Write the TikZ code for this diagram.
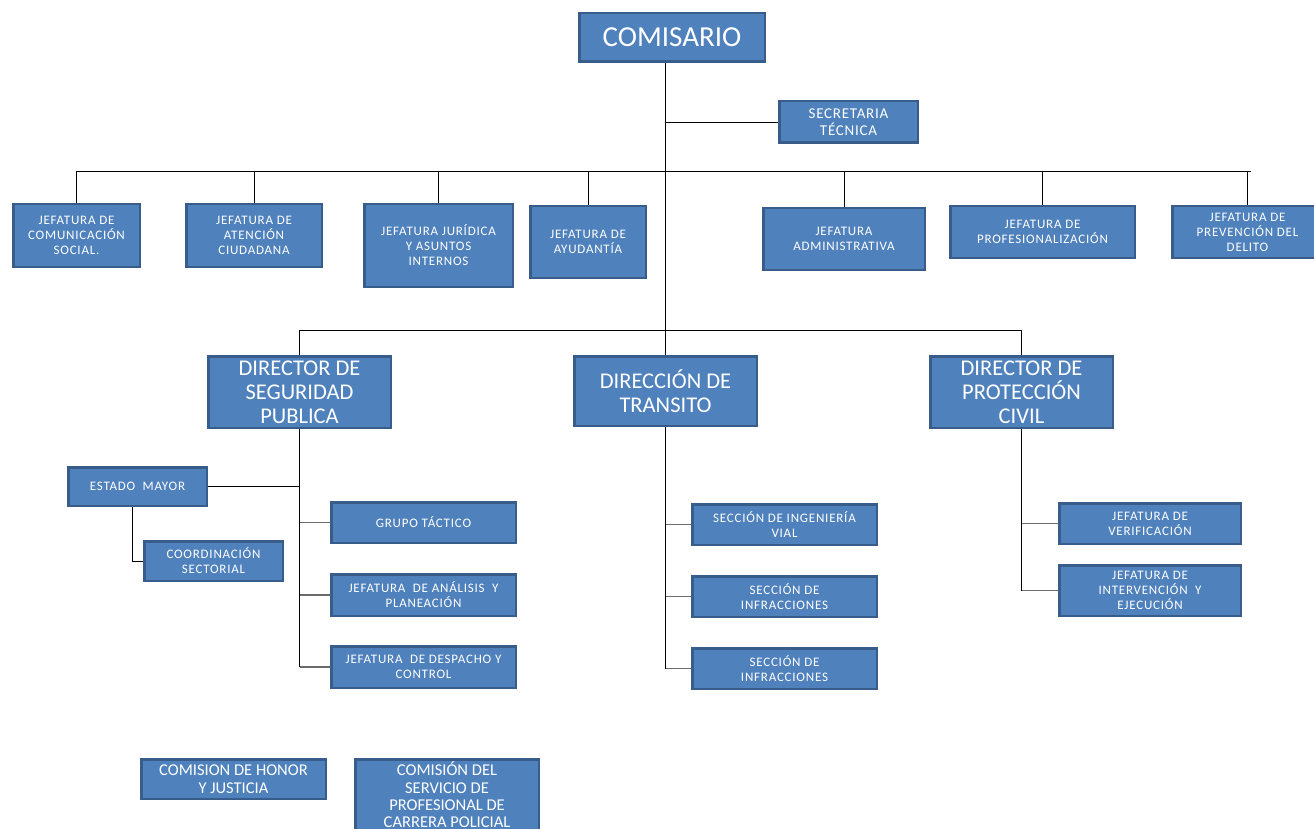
\documentclass[tikz,border=0pt]{standalone}
\usepackage{fontspec}
\setmainfont{Carlito}
\newfontfamily\spacedfam[LetterSpace=6]{Carlito}
\newfontfamily\secfam[LetterSpace=5]{Carlito}
\definecolor{boxfill}{HTML}{4F81BD}
\definecolor{boxline}{HTML}{385D8A}
\definecolor{lnGray}{HTML}{6B6B6B}
\tikzset{
  box/.style={draw=boxline, fill=boxfill, line width=2.5pt, text=white, align=center, inner sep=1pt},
  smf/.style={font=\spacedfam\fontsize{13}{15}\selectfont},
  secf/.style={font=\secfam\fontsize{15}{17}\selectfont},
  dirf/.style={font=\fontsize{22.5}{24}\selectfont},
  comf/.style={font=\fontsize{29}{30}\selectfont},
  botf/.style={font=\fontsize{16.5}{18}\selectfont},
  botg/.style={font=\fontsize{16.5}{17.3}\selectfont},
  conn/.style={draw=black, line width=0.9pt},
  conng/.style={draw=lnGray, line width=1.1pt}
}
\newcommand{\obox}[7][]{%
  \pgfmathsetmacro\obx{(#3+#5)/2}\pgfmathsetmacro\oby{(#4+#6)/2}%
  \pgfmathsetmacro\obw{#5-#3-2.5}\pgfmathsetmacro\obh{#6-#4-2.5}%
  \node[box,#1,minimum width=\obw pt,minimum height=\obh pt] (#2) at (\obx,\oby) {#7};}
\begin{document}
\begin{tikzpicture}[x=1pt,y=-1pt]
\fill[white] (0,0) rectangle (1314,829);
\useasboundingbox (0,0) rectangle (1314,829);

% junction coordinates
\coordinate (trk) at (665,330);
\coordinate (busA) at (76,171);
\coordinate (busB) at (1251,171);

% trunk (behind boxes)
\coordinate (comB) at (665,62);
\coordinate (traT) at (665,356);
\draw[conn] (comB) -- (traT);

% boxes
\obox[comf]{com}{578}{12}{766}{63}{COMISARIO}
\obox[secf]{sec}{778}{100}{919}{144}{SECRETARIA\\TÉCNICA}

\obox[smf]{ja}{12}{203}{141}{268}{JEFATURA DE\\COMUNICACIÓN\\SOCIAL.}
\obox[smf]{jb}{185}{203}{323}{268}{JEFATURA DE\\ATENCIÓN\\CIUDADANA}
\obox[smf]{jc}{363}{203}{514}{288}{JEFATURA JURÍDICA\\Y ASUNTOS\\INTERNOS}
\obox[smf]{jd}{529}{205}{647}{279}{JEFATURA DE\\AYUDANTÍA}
\obox[smf]{je}{762}{207}{926}{271}{JEFATURA\\ADMINISTRATIVA}
\obox[smf]{jf}{949}{205}{1136}{259}{JEFATURA DE\\PROFESIONALIZACIÓN}
\obox[smf]{jg}{1171}{205}{1324}{259}{JEFATURA DE\\PREVENCIÓN DEL\\DELITO}

\obox[dirf]{sp}{207}{355}{392}{429}{DIRECTOR DE\\SEGURIDAD\\PUBLICA}
\obox[dirf]{tra}{573}{355}{758}{427}{DIRECCIÓN DE\\TRANSITO}
\obox[dirf]{pc}{929}{355}{1114}{429}{DIRECTOR DE\\PROTECCIÓN\\CIVIL}

\obox[smf]{em}{67}{466}{208}{507}{ESTADO\ \ MAYOR}
\obox[smf]{co}{143}{540}{284}{582}{COORDINACIÓN\\SECTORIAL}
\obox[smf]{gt}{330}{501}{517}{544}{GRUPO TÁCTICO}
\obox[smf]{an}{330}{573}{517}{617}{JEFATURA\ \ DE ANÁLISIS\ \ Y\\PLANEACIÓN}
\obox[smf]{de}{330}{645}{517}{689}{JEFATURA\ \ DE DESPACHO\ Y\\CONTROL}

\obox[smf]{ta}{691}{503}{878}{546}{SECCIÓN DE INGENIERÍA\\VIAL}
\obox[smf]{tb}{691}{575}{878}{618}{SECCIÓN DE\\INFRACCIONES}
\obox[smf]{tc}{691}{647}{878}{690}{SECCIÓN DE\\INFRACCIONES}

\obox[smf]{pa}{1058}{502}{1242}{545}{JEFATURA DE\\VERIFICACIÓN}
\obox[smf]{pb}{1058}{564}{1242}{617}{JEFATURA DE\\INTERVENCIÓN\ \ Y\\EJECUCIÓN}

\obox[botf]{ch}{140}{758}{327}{800}{COMISION DE HONOR\\Y JUSTICIA}
\obox[botg]{cs}{354}{758}{540}{832}{COMISIÓN DEL\\SERVICIO DE\\PROFESIONAL DE\\CARRERA POLICIAL}

% remaining connectors
\draw[conn] (sec.west) -- (sec.west -| trk);
\draw[conn] (busA) -- (busB);
\foreach \n in {ja,jb,jc,jd,je,jf,jg}{\draw[conn] (\n.north) -- (\n.north |- busA);}
\draw[conn] (sp.north) -- (sp.north |- trk) -- (pc.north |- trk) -- (pc.north);

% seguridad publica
\draw[conn] (sp.south) -- (sp.south |- de.west);
\draw[conn] (em.east) -- (em.east -| sp.south);
\draw[conn] ([xshift=-5.5pt]em.south) |- (co.west);
\foreach \n in {gt,an,de}{\draw[conng] (\n.west) -- (\n.west -| sp.south);}

% transito
\draw[conn] (tra.south) -- (tra.south |- tc.west);
\foreach \n in {ta,tb,tc}{\draw[conng] (\n.west) -- (\n.west -| tra.south);}

% proteccion civil
\draw[conn] (pc.south) -- (pc.south |- pb.west);
\foreach \n in {pa,pb}{\draw[conng] (\n.west) -- (\n.west -| pc.south);}
\end{tikzpicture}
\end{document}
